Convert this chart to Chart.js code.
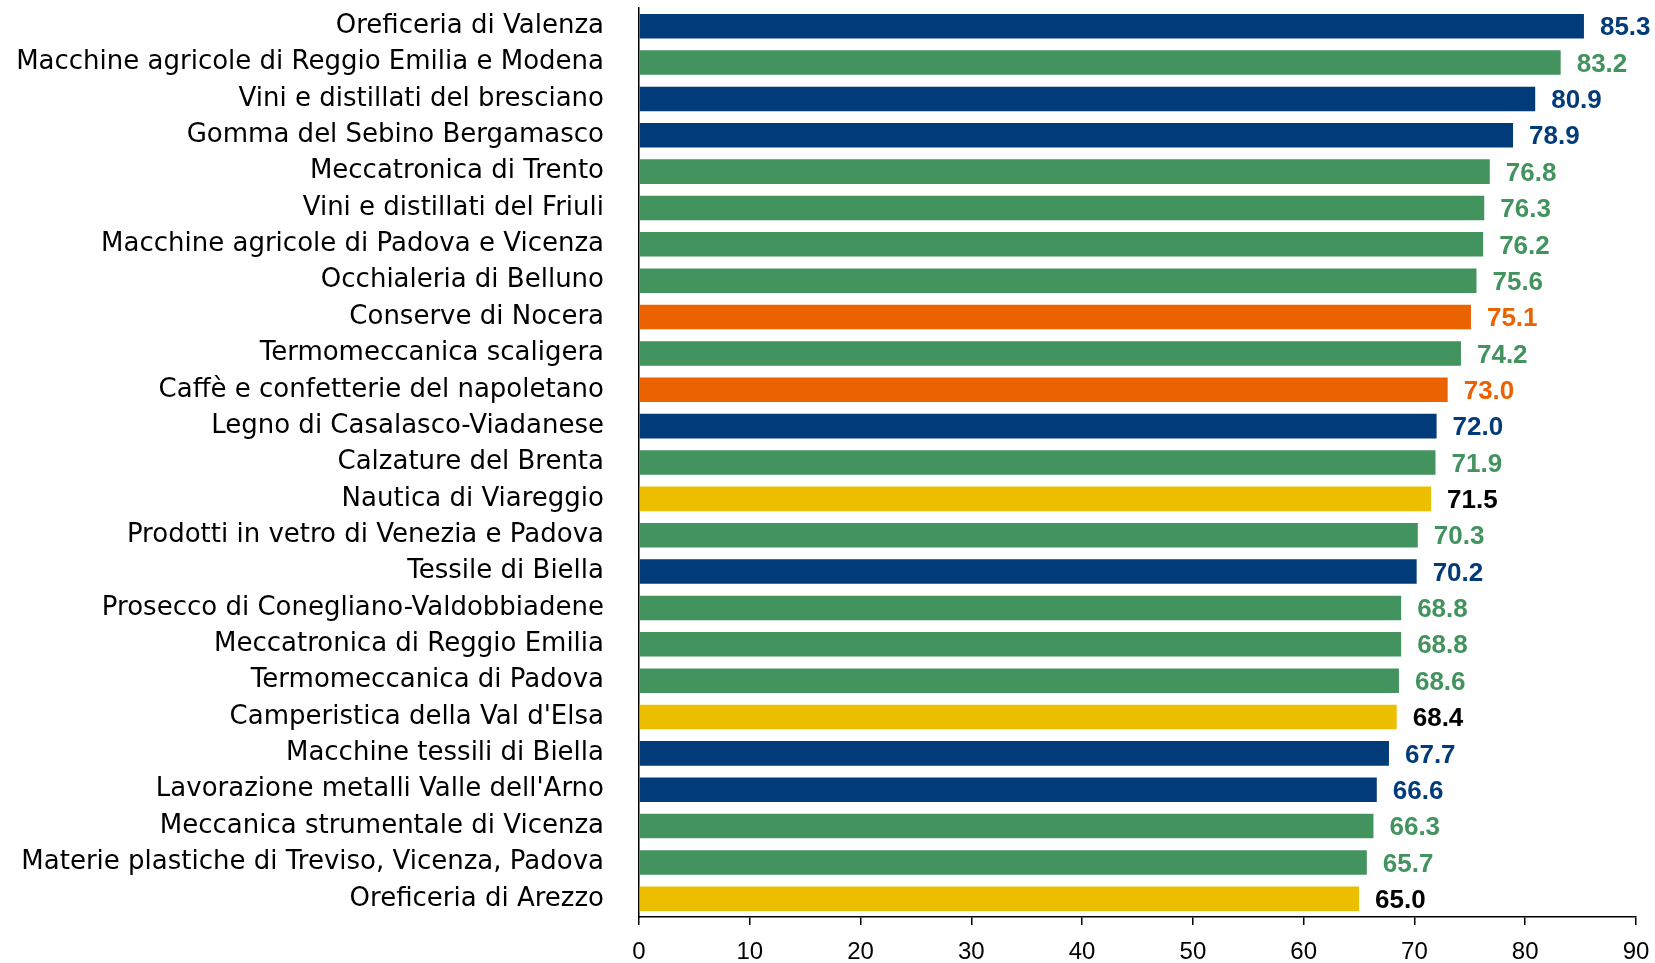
<!DOCTYPE html>
<html>
<head>
<meta charset="utf-8">
<script src="https://cdn.jsdelivr.net/npm/chart.js@4/dist/chart.umd.min.js"></script>
<style>
  html, body { margin: 0; padding: 0; background: #fff; }
  #wrap { width: 1655px; height: 963px; }
</style>
</head>
<body>
<div id="wrap"><canvas id="c"></canvas></div>
<script>
// Distretti: etichette, valori e gruppo (colore)
const distretti = [
  'Oreficeria di Valenza',
  'Macchine agricole di Reggio Emilia e Modena',
  'Vini e distillati del bresciano',
  'Gomma del Sebino Bergamasco',
  'Meccatronica di Trento',
  'Vini e distillati del Friuli',
  'Macchine agricole di Padova e Vicenza',
  'Occhialeria di Belluno',
  'Conserve di Nocera',
  'Termomeccanica scaligera',
  'Caffè e confetterie del napoletano',
  'Legno di Casalasco-Viadanese',
  'Calzature del Brenta',
  'Nautica di Viareggio',
  'Prodotti in vetro di Venezia e Padova',
  'Tessile di Biella',
  'Prosecco di Conegliano-Valdobbiadene',
  'Meccatronica di Reggio Emilia',
  'Termomeccanica di Padova',
  "Camperistica della Val d'Elsa",
  'Macchine tessili di Biella',
  "Lavorazione metalli Valle dell'Arno",
  'Meccanica strumentale di Vicenza',
  'Materie plastiche di Treviso, Vicenza, Padova',
  'Oreficeria di Arezzo',
];
const valori = [85.3, 83.2, 80.9, 78.9, 76.8, 76.3, 76.2, 75.6, 75.1, 74.2, 73.0, 72.0, 71.9,
                71.5, 70.3, 70.2, 68.8, 68.8, 68.6, 68.4, 67.7, 66.6, 66.3, 65.7, 65.0];
const gruppi = ['nord_ovest', 'nord_est', 'nord_ovest', 'nord_ovest', 'nord_est', 'nord_est', 'nord_est',
                'nord_est', 'sud', 'nord_est', 'sud', 'nord_ovest', 'nord_est', 'centro', 'nord_est',
                'nord_ovest', 'nord_est', 'nord_est', 'nord_est', 'centro', 'nord_ovest', 'nord_ovest',
                'nord_est', 'nord_est', 'centro'];
const xTicks = [0, 10, 20, 30, 40, 50, 60, 70, 80, 90];

const COLORI = { nord_ovest: '#023b7a', nord_est: '#42935e', sud: '#eb6200', centro: '#ebbf00' };
// colore dell'etichetta valore (il giallo usa il nero)
const COLORI_TESTO = { nord_ovest: '#023b7a', nord_est: '#42935e', sud: '#eb6200', centro: '#000000' };

// etichette valore a destra delle barre
const etichetteValori = {
  id: 'etichetteValori',
  afterDatasetsDraw(chart) {
    const ctx = chart.ctx;
    const meta = chart.getDatasetMeta(0);
    ctx.save();
    ctx.font = 'bold 26px "Liberation Sans"';
    ctx.textAlign = 'left';
    ctx.textBaseline = 'middle';
    meta.data.forEach((bar, i) => {
      ctx.fillStyle = COLORI_TESTO[gruppi[i]];
      ctx.fillText(valori[i].toFixed(1), bar.x + 16, bar.y + 2);
    });
    ctx.restore();
  },
};

new Chart(document.getElementById('c'), {
  type: 'bar',
  data: {
    labels: distretti,
    datasets: [{
      data: valori,
      backgroundColor: gruppi.map(g => COLORI[g]),
      barPercentage: 0.675,
      categoryPercentage: 1,
    }],
  },
  options: {
    indexAxis: 'y',
    responsive: true,
    maintainAspectRatio: false,
    animation: false,
    layout: { padding: { top: 8, right: 19, left: 0, bottom: 0 } },
    plugins: { legend: { display: false }, tooltip: { enabled: false } },
    scales: {
      x: {
        min: 0, max: 90,
        afterBuildTicks: s => { s.ticks = xTicks.map(v => ({ value: v })); },
        afterFit: s => { s.height = 46; s.paddingLeft = 0; s.paddingRight = 0; },
        grid: { display: true, drawOnChartArea: false, drawTicks: true, tickLength: 8, color: '#000', lineWidth: 1.5 },
        border: { display: true, color: '#000', width: 1.5 },
        ticks: { color: '#000', font: { family: '"Liberation Sans"', size: 24 }, padding: 13, maxRotation: 0 },
      },
      y: {
        // larghezza fissa dell'asse e niente margine extra in alto/basso
        afterFit: s => { s.width = 639; s.paddingTop = 0; s.paddingBottom = 0; },
        grid: { display: false },
        border: { display: true, color: '#000', width: 1.5 },
        ticks: { color: '#000', font: { family: '"DejaVu Sans"', size: 26 }, padding: 27, autoSkip: false },
      },
    },
  },
  plugins: [etichetteValori],
});
</script>
</body>
</html>
